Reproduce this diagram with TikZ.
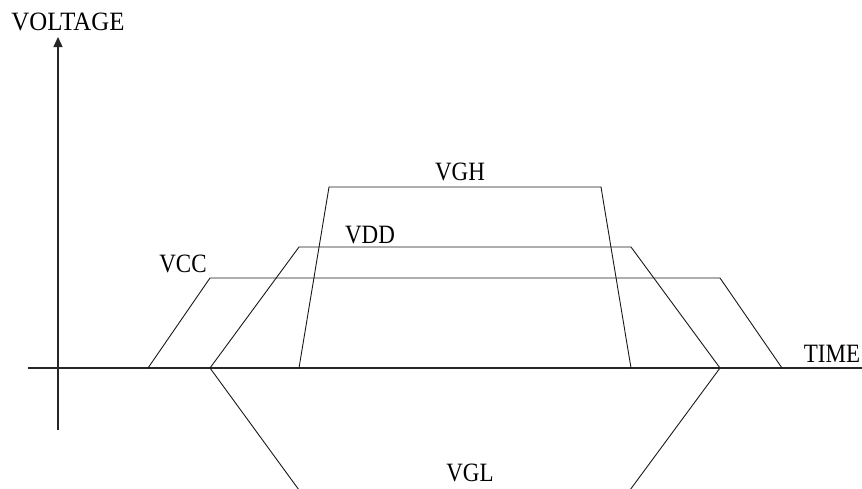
\documentclass[tikz,border=0pt]{standalone}
\usepackage{fontspec}
\setmainfont{Liberation Serif}
\usetikzlibrary{arrows.meta}
\newcommand{\tallt}[2][1]{\scalebox{#1}[1.15]{#2}}
\begin{document}
\begin{tikzpicture}[x=1pt,y=-1pt,
  lbl/.style={inner sep=0pt,anchor=base,font=\fontsize{23}{23}\selectfont},
  axisline/.style={line width=1.4pt,draw=black!85},
  wave/.style={line width=0.9pt,draw=black!90}]
\useasboundingbox (0,0) rectangle (862,488);
\begin{scope}
\clip (0,0) rectangle (862,488);
% axes
\coordinate (t0) at (28,368);
\coordinate (t1) at (864,368);
\coordinate (v0) at (58,430);
\coordinate (v1) at (58,37);
\draw[axisline] (t0) -- (t1);
\draw[axisline,-{Triangle[length=10pt,width=9pt]}] (v0) -- (v1);
% VCC
\coordinate (c1) at (148,368); \coordinate (c2) at (210,278);
\coordinate (c3) at (720,278); \coordinate (c4) at (782,368);
\draw[wave] (c1) -- (c2) -- (c3) -- (c4);
% VDD
\coordinate (d1) at (210,368); \coordinate (d2) at (299,247);
\coordinate (d3) at (631,247); \coordinate (d4) at (720,368);
\draw[wave] (d1) -- (d2) -- (d3) -- (d4);
% VGH
\coordinate (h1) at (299,368); \coordinate (h2) at (329,187);
\coordinate (h3) at (601,187); \coordinate (h4) at (631,368);
\draw[wave] (h1) -- (h2) -- (h3) -- (h4);
% VGL
\coordinate (g1) at (210,368); \coordinate (g2) at (299,490);
\coordinate (g3) at (630,490); \coordinate (g4) at (720,368);
\draw[wave] (g1) -- (g2) -- (g3) -- (g4);
\end{scope}
% labels
\node[lbl] (lv) at (68,30) {\tallt[1.08]{VOLTAGE}};
\node[lbl] (lt) at (832,362) {\tallt{TIME}};
\node[lbl] (lvgh) at (460,180) {\tallt{VGH}};
\node[lbl] (lvdd) at (370,243) {\tallt{VDD}};
\node[lbl] (lvcc) at (183,272) {\tallt{VCC}};
\node[lbl] (lvgl) at (470,481) {\tallt{VGL}};
\end{tikzpicture}
\end{document}
